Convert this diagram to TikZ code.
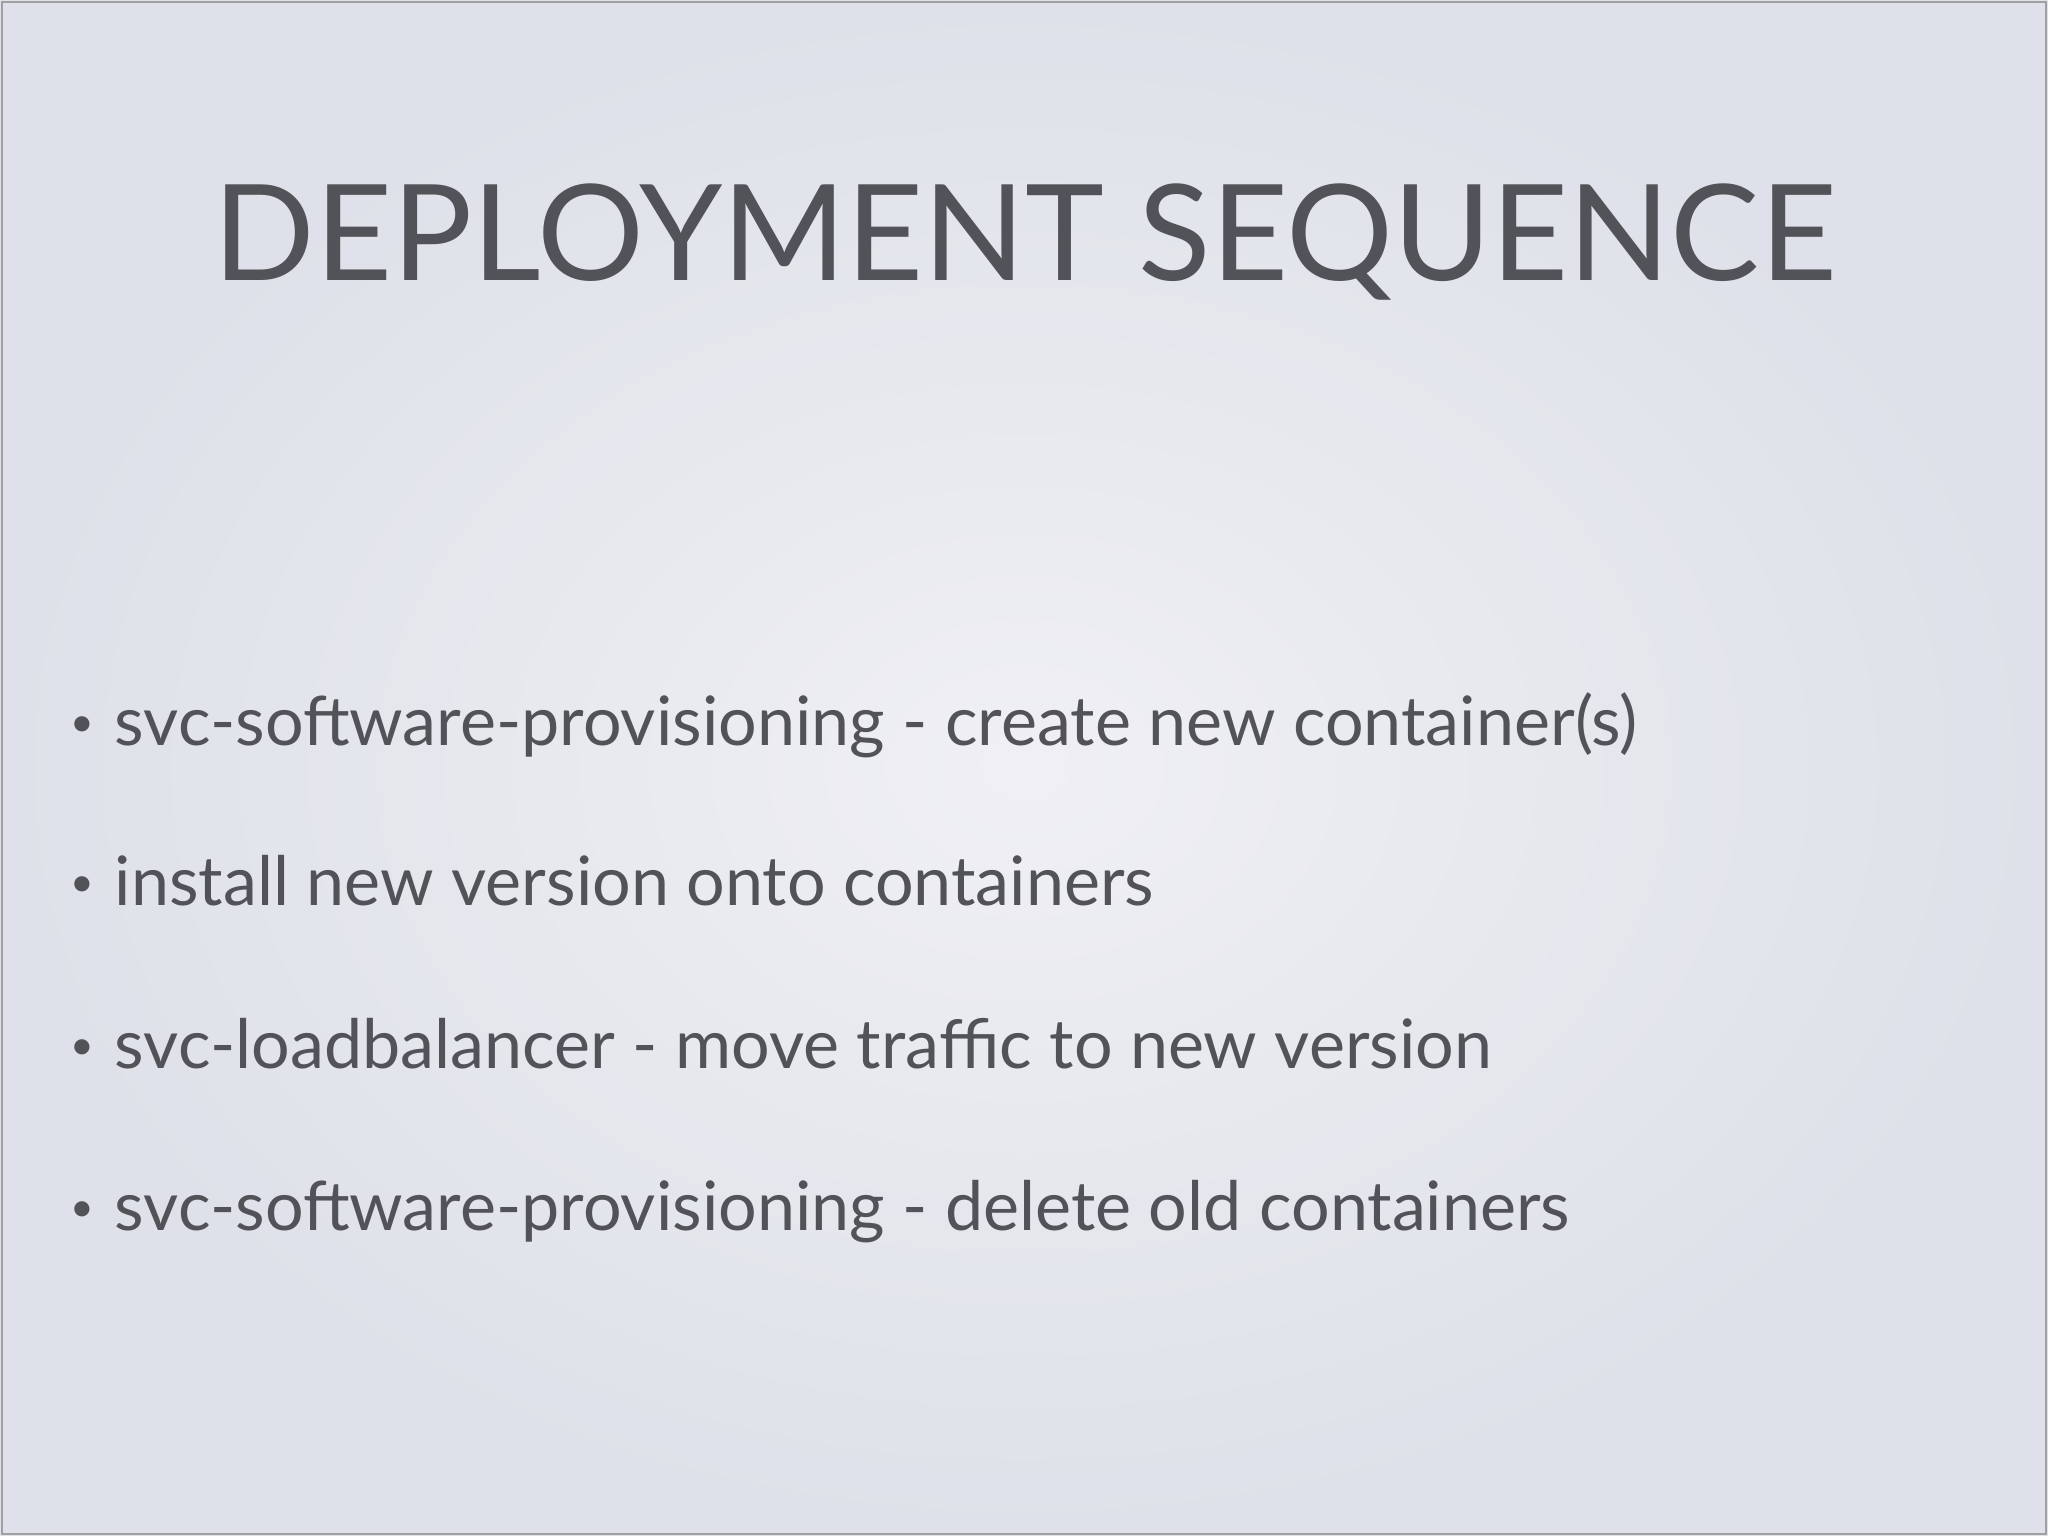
\documentclass[tikz,border=0pt]{standalone}
\usepackage{fontspec}
\setmainfont{Lato}
\definecolor{txt}{RGB}{82,83,88}
\definecolor{bgo}{RGB}{222,225,233}
\definecolor{bgi}{RGB}{240,240,244}
\newcommand{\mybul}{\raisebox{0.12em}{\scalebox{0.6}{\textbullet}}\hspace{0.3em}}
\tikzset{bul/.style={anchor=base west,inner sep=0pt,text=txt,font=\fontsize{19.4}{24}\selectfont}}
\begin{document}
\begin{tikzpicture}
\useasboundingbox (0,0) rectangle (20.48,-15.36);
\shade[inner color=bgi,outer color=bgo] (0,0) rectangle (20.48,-15.36);
\draw[txt!55,line width=0.8pt] (0.02,-0.02) rectangle (20.46,-15.34);
\node[anchor=base,inner sep=0pt,text=txt,font=\fontsize{38}{44}\selectfont] (title) at (10.25,-2.81) {DEPLOYMENT SEQUENCE};
\node[bul] (b1) at (0.70,-7.45) {\mybul svc-software-provisioning - create new container(s)};
\node[bul] (b2) at (0.70,-9.05) {\mybul install new version onto containers};
\node[bul] (b3) at (0.70,-10.68) {\mybul svc-loadbalancer - move traffic to new version};
\node[bul] (b4) at (0.70,-12.30) {\mybul svc-software-provisioning - delete old containers};
\end{tikzpicture}
\end{document}
